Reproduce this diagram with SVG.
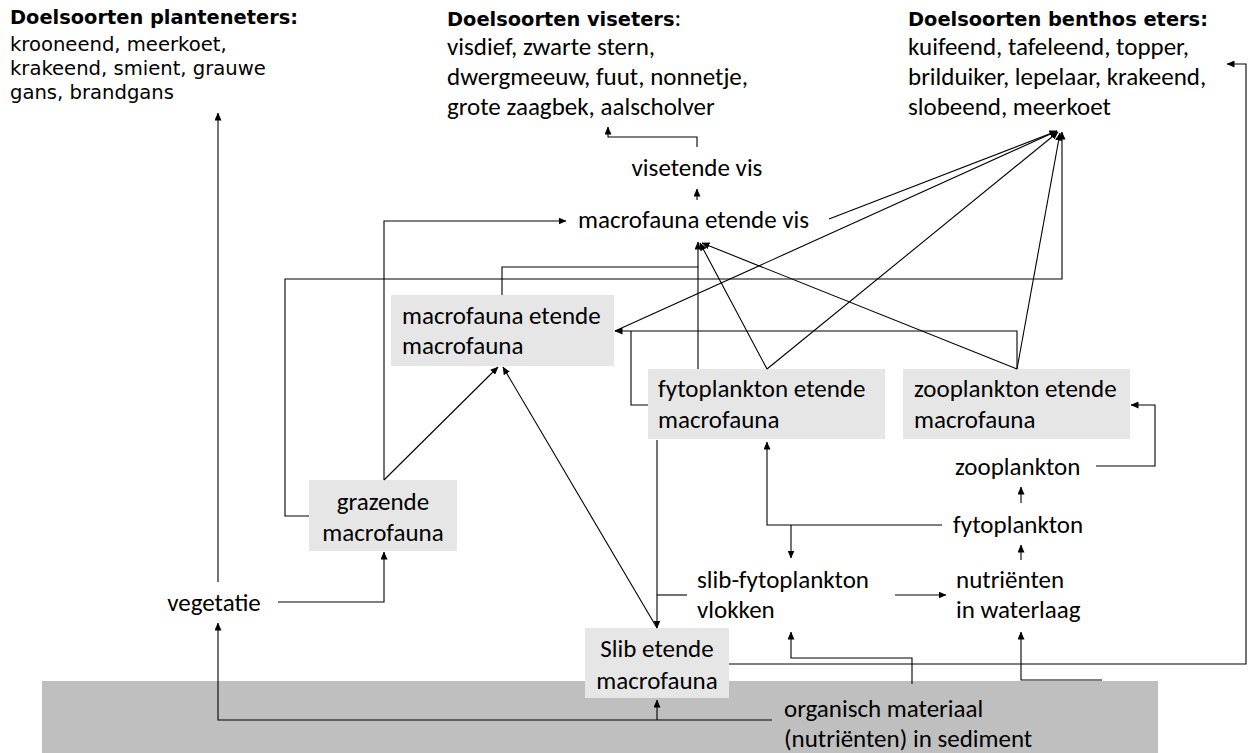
<svg xmlns="http://www.w3.org/2000/svg" width="1254" height="753" viewBox="0 0 1254 753">
<style>
.v{font-family:"DejaVu Sans",Verdana,sans-serif;font-size:19.6px;fill:#000}
.vb{font-family:"DejaVu Sans",Verdana,sans-serif;font-size:19.4px;font-weight:bold;fill:#000}
.c{font-family:Carlito,Lato,sans-serif;font-size:25px;fill:#000}
.box{fill:#e6e6e6}
.ln{fill:none;stroke:#000;stroke-width:1.1}
.la{fill:none;stroke:#000;stroke-width:1.1;marker-end:url(#ah)}
</style>
<defs>
<marker id="ah" markerUnits="userSpaceOnUse" markerWidth="8" markerHeight="7" viewBox="0 0 8 7" refX="7.5" refY="3.5" orient="auto">
<path d="M0,0 L8,3.5 L0,7 Z" fill="#000"/>
</marker>
</defs>
<rect id="sediment-bg" x="42" y="681" width="1116" height="72" fill="#bfbfbf"/>

<g id="planteneters">
<text class="vb" x="10" y="24">Doelsoorten planteneters:</text>
<text class="v" x="10" y="51">krooneend, meerkoet,</text>
<text class="v" x="10" y="75">krakeend, smient, grauwe</text>
<text class="v" x="10" y="99">gans, brandgans</text>
</g>
<g id="viseters">
<text class="c" x="447" y="26"><tspan class="vb">Doelsoorten viseters</tspan>:</text>
<text class="c" x="447" y="55">visdief, zwarte stern,</text>
<text class="c" x="447" y="85">dwergmeeuw, fuut, nonnetje,</text>
<text class="c" x="447" y="115">grote zaagbek, aalscholver</text>
</g>
<g id="benthoseters">
<text class="vb" x="908" y="26">Doelsoorten benthos eters:</text>
<text class="c" x="908" y="55">kuifeend, tafeleend, topper,</text>
<text class="c" x="908" y="85">brilduiker, lepelaar, krakeend,</text>
<text class="c" x="908" y="115">slobeend, meerkoet</text>
</g>
<g id="visetende-vis"><text class="c" x="697" y="176" text-anchor="middle">visetende vis</text></g>
<g id="macrofauna-etende-vis"><text class="c" x="578" y="228">macrofauna etende vis</text></g>
<g id="macrofauna-etende-macrofauna">
<rect class="box" x="391" y="295" width="223" height="71"/>
<text class="c" x="402" y="324">macrofauna etende</text>
<text class="c" x="402" y="354">macrofauna</text>
</g>
<g id="fytoplankton-etende-macrofauna">
<rect class="box" x="648" y="369" width="237" height="70"/>
<text class="c" x="658" y="397">fytoplankton etende</text>
<text class="c" x="658" y="428">macrofauna</text>
</g>
<g id="zooplankton-etende-macrofauna">
<rect class="box" x="903" y="369" width="227" height="70"/>
<text class="c" x="914" y="397">zooplankton etende</text>
<text class="c" x="914" y="428">macrofauna</text>
</g>
<g id="grazende-macrofauna">
<rect class="box" x="309" y="480" width="148" height="71"/>
<text class="c" x="383" y="510" text-anchor="middle">grazende</text>
<text class="c" x="383" y="541" text-anchor="middle">macrofauna</text>
</g>
<g id="slib-etende-macrofauna">
<rect class="box" x="585" y="628" width="144" height="70"/>
<text class="c" x="657" y="657" text-anchor="middle">Slib etende</text>
<text class="c" x="657" y="689" text-anchor="middle">macrofauna</text>
</g>
<g id="vegetatie"><text class="c" x="214" y="611" text-anchor="middle">vegetatie</text></g>
<g id="zooplankton"><text class="c" x="955" y="475">zooplankton</text></g>
<g id="fytoplankton"><text class="c" x="953" y="533">fytoplankton</text></g>
<g id="slib-fytoplankton-vlokken">
<text class="c" x="697" y="588">slib-fytoplankton</text>
<text class="c" x="697" y="618">vlokken</text>
</g>
<g id="nutrienten-waterlaag">
<text class="c" x="956" y="588">nutriënten</text>
<text class="c" x="956" y="618">in waterlaag</text>
</g>
<g id="organisch-materiaal">
<text class="c" x="784" y="717">organisch materiaal</text>
<text class="c" x="784" y="747">(nutriënten) in sediment</text>
</g>

<g id="connectors">
<path class="la" d="M697,147 V137 H608 V127"/>
<path class="la" d="M697,200 V189"/>
<path class="la" d="M384,480 V221 H566"/>
<path class="la" d="M384,480 L498,367"/>
<path class="la" d="M657,628 L503,367"/>
<path class="la" d="M657,440 V628"/>
<path class="ln" d="M687,595 H657"/>
<path class="la" d="M502,295 V267 H698 V242"/>
<path class="ln" d="M698,369 V267"/>
<path class="la" d="M767,369 L700,243"/>
<path class="la" d="M1017,369 L702,243"/>
<path class="la" d="M767,369 L1058,132"/>
<path class="la" d="M1017,369 L1060,133"/>
<path class="la" d="M829,219 L1057,131"/>
<path class="la" d="M615,331 L1057,131"/>
<path class="ln" d="M648,405 H631 V331"/>
<path class="la" d="M1017,369 V331 H615"/>
<path class="la" d="M309,516 H285 V279 H1062 V132"/>
<path class="la" d="M218,582 V113"/>
<path class="la" d="M278,602 H384 V552"/>
<path class="la" d="M772,720 H218 V623"/>
<path class="la" d="M657,720 V700"/>
<path class="la" d="M912,684 V658 H791 V632"/>
<path class="la" d="M1102,680 H1021 V632"/>
<path class="la" d="M895,595 H946"/>
<path class="la" d="M1021,560 V545"/>
<path class="la" d="M1021,503 V487"/>
<path class="la" d="M1096,466 H1155 V405 H1131"/>
<path class="la" d="M942,525 H767 V442"/>
<path class="la" d="M791,525 V558"/>
<path class="la" d="M729,664 H1246 V64 H1227"/>
</g>
</svg>
